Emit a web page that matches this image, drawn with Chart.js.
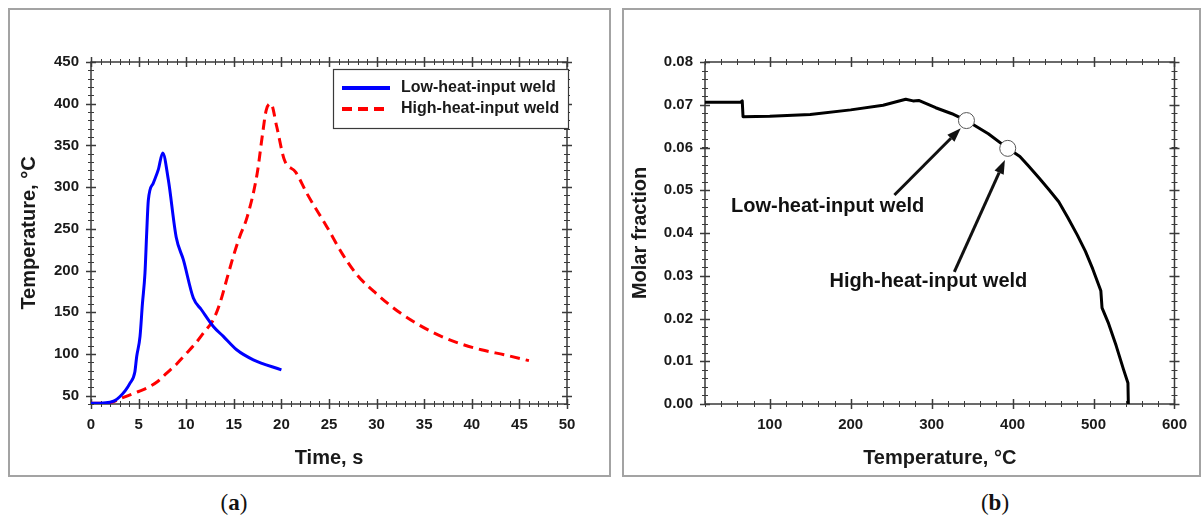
<!DOCTYPE html>
<html>
<head>
<meta charset="utf-8">
<script src="https://cdn.jsdelivr.net/npm/chart.js@4.4.1/dist/chart.umd.min.js"></script>
<style>
  body { margin: 0; background: #fff; width: 1201px; height: 525px; position: relative; overflow: hidden; }
  .frame { position: absolute; border: 2px solid #a3a3a3; box-sizing: border-box; }
  canvas { position: absolute; }
  .tag { position: absolute; font-family: "Liberation Serif", serif; font-size: 23px; color: #111; transform: translate(-50%, -50%); }
</style>
</head>
<body>
<div class="frame" style="left:8px;top:8px;width:603px;height:469px"></div>
<div class="frame" style="left:622px;top:8px;width:579px;height:469px"></div>
<canvas id="chartA" width="599" height="465" style="left:10px;top:10px"></canvas>
<canvas id="chartB" width="575" height="465" style="left:624px;top:10px"></canvas>
<div class="tag" style="left:234px;top:503px">(<b>a</b>)</div>
<div class="tag" style="left:995px;top:503px">(<b>b</b>)</div>
<script>
// ---- (a) thermal cycles ----
const lowTime = [0, 1, 2, 2.5, 3.05, 3.6, 4.1, 4.6, 4.8, 5.15, 5.4, 5.67, 5.85, 6.02, 6.55, 7.07, 7.53, 8.12, 8.95, 9.7, 10.75, 11.6, 12.85, 13.9, 15.3, 17.05, 20.0];
const lowTemp = [41, 41, 42, 44, 49, 56, 65, 78, 97, 121, 160, 197, 245, 284, 305, 321, 341, 309, 240, 213, 167, 153, 133, 121, 105, 93, 81];
const highTime = [0, 1, 2.2, 3, 4.1, 5, 5.85, 7, 7.95, 9, 10.05, 11, 11.8, 12.85, 13.55, 14.25, 14.95, 15.6, 16.4, 17.45, 18.0, 18.4, 18.9, 19.5, 20.3, 21.5, 22.7, 24.8, 26.4, 28.0, 30.0, 32.5, 35.7, 38.1, 41.0, 43.4, 46.0];
const highTemp = [41, 41, 42, 46, 51, 55, 59, 67, 77, 88, 101, 113, 125, 141, 161, 189, 217, 240, 264, 316, 362, 392, 400, 373, 333, 318, 292, 252, 220, 194, 172, 149, 127, 115, 105, 99, 92];
const timeTicks = [0, 5, 10, 15, 20, 25, 30, 35, 40, 45, 50];
const tempTicks = [50, 100, 150, 200, 250, 300, 350, 400, 450];

// ---- (b) molar fraction ----
const fracTemp = [20, 64, 66, 67, 100, 150, 200, 240, 268, 277, 284, 305, 325, 343, 370, 394, 409, 420, 433, 445, 457, 468, 480, 490, 499, 509, 510.5, 518, 528, 537, 542.5, 543];
const fracValue = [0.0706, 0.0706, 0.0709, 0.0672, 0.0673, 0.0677, 0.0688, 0.0699, 0.0713, 0.0709, 0.0710, 0.0693, 0.0679, 0.0663, 0.0632, 0.0598, 0.0579, 0.0556, 0.0528, 0.0501, 0.0473, 0.0437, 0.0395, 0.0357, 0.0316, 0.0265, 0.0225, 0.0191, 0.0136, 0.0081, 0.0049, 0];
const markTemp = [343, 394];
const markValue = [0.0663, 0.0598];
const noteText = ["Low-heat-input weld", "High-heat-input weld"];
const noteAt = [[171.5, 0.0462], [296, 0.0286]];
const arrowFrom = [[254, 0.0489], [328, 0.0309]];
const arrowTo = [[336, 0.0645], [390.5, 0.0571]];
const degTicks = [100, 200, 300, 400, 500, 600];
const fracTicks = [0, 0.01, 0.02, 0.03, 0.04, 0.05, 0.06, 0.07, 0.08];

const FONT = '"Liberation Sans", Arial, sans-serif';
const INK = '#1a1a1a';
const AXIS = '#3a3a3a';

function pts(xs, ys) {
    return xs.map((x, i) => ({ x: x, y: ys[i] }));
}

// box around the plot with crossing tick marks on all four sides
const boxAxes = {
    id: 'boxAxes',
    beforeDatasetsDraw(chart, args, opts) {
        const { ctx, chartArea: a, scales: { x, y } } = chart;
        ctx.save();
        ctx.strokeStyle = AXIS;
        ctx.lineWidth = 1.5;
        ctx.strokeRect(a.left, a.top, a.right - a.left, a.bottom - a.top);
        ctx.lineWidth = 1;
        const tick = (px, py, half, vertical) => {
            ctx.beginPath();
            if (vertical) { ctx.moveTo(px, py - half); ctx.lineTo(px, py + half); }
            else { ctx.moveTo(px - half, py); ctx.lineTo(px + half, py); }
            ctx.stroke();
        };
        for (let v = x.min; v <= x.max + 1e-9; v += opts.xMinor) {
            const px = Math.round(x.getPixelForValue(v)) + 0.5;
            tick(px, a.bottom, 3, true);
            tick(px, a.top, 3, true);
        }
        for (let v = y.min; v <= y.max + 1e-9; v += opts.yMinor) {
            const py = Math.round(y.getPixelForValue(v)) + 0.5;
            tick(a.left, py, 3, false);
            tick(a.right, py, 3, false);
        }
        ctx.lineWidth = 1.5;
        opts.xMajor.forEach(v => {
            const px = Math.round(x.getPixelForValue(v)) + 0.5;
            tick(px, a.bottom, 5, true);
            tick(px, a.top, 5, true);
        });
        opts.yMajor.forEach(v => {
            const py = Math.round(y.getPixelForValue(v)) + 0.5;
            tick(a.left, py, 5, false);
            tick(a.right, py, 5, false);
        });
        ctx.restore();
    }
};

// legend box in the top right corner of chart (a)
const boxLegend = {
    id: 'boxLegend',
    afterDatasetsDraw(chart) {
        const { ctx, chartArea: a } = chart;
        const left = a.right - 234, top = a.top + 7, w = 235, h = 59;
        ctx.save();
        ctx.fillStyle = '#fff';
        ctx.fillRect(left, top, w, h);
        ctx.strokeStyle = AXIS;
        ctx.lineWidth = 1.2;
        ctx.strokeRect(left + 0.5, top + 0.5, w, h);
        chart.data.datasets.forEach((ds, i) => {
            const cy = top + 19 + i * 21;
            ctx.strokeStyle = ds.borderColor;
            ctx.lineWidth = 4;
            ctx.setLineDash(ds.borderDash || []);
            ctx.beginPath();
            ctx.moveTo(left + 9, cy);
            ctx.lineTo(left + 57, cy);
            ctx.stroke();
            ctx.setLineDash([]);
            ctx.fillStyle = INK;
            ctx.font = 'bold 16px ' + FONT;
            ctx.textBaseline = 'middle';
            ctx.fillText(ds.label, left + 68, cy);
        });
        ctx.restore();
    }
};

// arrows and notes for chart (b)
const notes = {
    id: 'notes',
    afterDatasetsDraw(chart) {
        const { ctx, scales: { x, y } } = chart;
        ctx.save();
        ctx.strokeStyle = '#111';
        ctx.fillStyle = '#111';
        arrowFrom.forEach((from, i) => {
            const x0 = x.getPixelForValue(from[0]), y0 = y.getPixelForValue(from[1]);
            const x1 = x.getPixelForValue(arrowTo[i][0]), y1 = y.getPixelForValue(arrowTo[i][1]);
            const ang = Math.atan2(y1 - y0, x1 - x0);
            const len = 14, wid = 5;
            const bx = x1 - len * Math.cos(ang), by = y1 - len * Math.sin(ang);
            ctx.lineWidth = 3;
            ctx.beginPath();
            ctx.moveTo(x0, y0);
            ctx.lineTo(bx, by);
            ctx.stroke();
            ctx.beginPath();
            ctx.moveTo(x1, y1);
            ctx.lineTo(bx + wid * Math.sin(ang), by - wid * Math.cos(ang));
            ctx.lineTo(bx - wid * Math.sin(ang), by + wid * Math.cos(ang));
            ctx.closePath();
            ctx.fill();
        });
        ctx.font = 'bold 20px ' + FONT;
        ctx.textAlign = 'center';
        ctx.textBaseline = 'middle';
        noteText.forEach((t, i) => {
            ctx.fillText(t, x.getPixelForValue(noteAt[i][0]), y.getPixelForValue(noteAt[i][1]));
        });
        ctx.restore();
    }
};

function scaleOpts(min, max, ticks, title, titlePad, fit, fmt) {
    return {
        type: 'linear',
        min: min,
        max: max,
        grid: { display: false, drawTicks: false },
        border: { display: false },
        afterBuildTicks: s => { s.ticks = ticks.map(v => ({ value: v })); },
        afterFit: fit,
        ticks: {
            autoSkip: false,
            maxRotation: 0,
            padding: 12,
            color: INK,
            font: { family: FONT, size: 15, weight: 'bold' },
            callback: fmt || (v => v)
        },
        title: {
            display: true,
            text: title,
            color: INK,
            padding: titlePad,
            font: { family: FONT, size: 20, weight: 'bold' }
        }
    };
}

const baseOpts = {
    responsive: false,
    animation: false,
    devicePixelRatio: 1,
    plugins: { legend: { display: false }, tooltip: { enabled: false } }
};

const smooth = { pointRadius: 0, tension: 0.4, cubicInterpolationMode: 'monotone' };

new Chart(document.getElementById('chartA'), {
    type: 'line',
    data: {
        datasets: [
            Object.assign({ label: 'Low-heat-input weld', data: pts(lowTime, lowTemp), borderColor: '#0000ff', borderWidth: 3 }, smooth),
            Object.assign({ label: 'High-heat-input weld', data: pts(highTime, highTemp), borderColor: '#ff0000', borderWidth: 3, borderDash: [10, 6] }, smooth)
        ]
    },
    options: Object.assign({}, baseOpts, {
        layout: { padding: { top: 52, right: 42, left: 0, bottom: 0 } },
        scales: {
            x: scaleOpts(0, 50, timeTicks, 'Time, s', { top: 0, bottom: 5 }, s => { s.height = 71; }),
            y: scaleOpts(40, 450, tempTicks, 'Temperature, \u00b0C', { top: 7, bottom: 0 }, s => { s.width = 81; })
        },
        plugins: Object.assign({}, baseOpts.plugins, {
            boxAxes: { xMajor: timeTicks, xMinor: 1, yMajor: tempTicks, yMinor: 10 }
        })
    }),
    plugins: [boxAxes, boxLegend]
});

new Chart(document.getElementById('chartB'), {
    type: 'line',
    data: {
        datasets: [
            { label: 'marks', data: pts(markTemp, markValue), showLine: false, pointRadius: 8, pointBackgroundColor: '#fff', pointBorderColor: '#555', pointBorderWidth: 1 },
            { label: 'fraction', data: pts(fracTemp, fracValue), borderColor: '#000', borderWidth: 3, pointRadius: 0, tension: 0, borderJoinStyle: 'round' }
        ]
    },
    options: Object.assign({}, baseOpts, {
        layout: { padding: { top: 52, right: 23, left: 0, bottom: 0 } },
        scales: {
            x: scaleOpts(20, 600, degTicks, 'Temperature, \u00b0C', { top: 0, bottom: 5 }, s => { s.height = 71; }),
            y: scaleOpts(0, 0.08, fracTicks, 'Molar fraction', { top: 4, bottom: 0 }, s => { s.width = 81; }, v => v.toFixed(2))
        },
        plugins: Object.assign({}, baseOpts.plugins, {
            boxAxes: { xMajor: degTicks, xMinor: 20, yMajor: fracTicks, yMinor: 0.002 }
        })
    }),
    plugins: [boxAxes, notes]
});
</script>
</body>
</html>
